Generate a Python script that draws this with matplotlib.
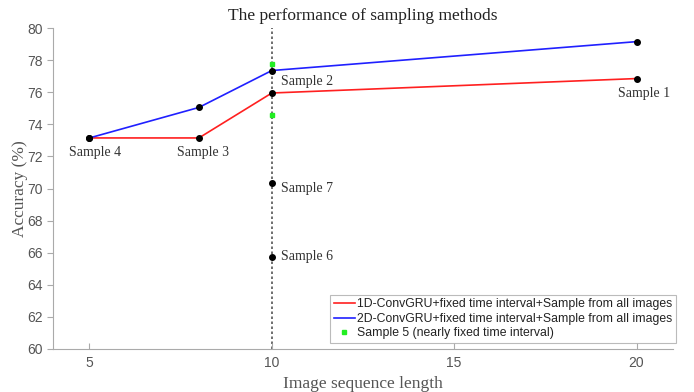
import numpy as np
import matplotlib.pyplot as plt

# Data
lengths = [5, 8, 10, 20]
acc_1d = [73.15, 73.15, 75.95, 76.85]
acc_2d = [73.15, 75.05, 77.35, 79.15]
sample5_x = [10, 10]
sample5_acc = [77.75, 74.55]
other_x = [10, 10]
other_acc = [70.35, 65.75]
sample_names = ['Sample 1', 'Sample 2', 'Sample 3', 'Sample 4', 'Sample 6', 'Sample 7']

serif = ['Liberation Serif', 'DejaVu Serif']
sans = ['Liberation Sans', 'DejaVu Sans']
grey = '#555555'

fig = plt.figure(figsize=(6.94, 3.92), dpi=100)
ax = fig.add_axes([53 / 694, 43 / 392, 620 / 694, 321 / 392])

ax.axvline(10, color='#555555', linestyle=(0, (1.5, 1.5)), linewidth=1.2, zorder=1)

ax.plot(lengths, acc_1d, color='#ff2020', linewidth=1.2,
        label='1D-ConvGRU+fixed time interval+Sample from all images', zorder=2)
ax.plot(lengths, acc_2d, color='#2020ff', linewidth=1.2,
        label='2D-ConvGRU+fixed time interval+Sample from all images', zorder=2)
ax.plot(sample5_x, sample5_acc, linestyle='none', marker='s', color='#22ee22',
        markersize=2.5, label='Sample 5 (nearly fixed time interval)', zorder=3)

# black points on the lines and the extra samples
ax.plot(lengths, acc_1d, linestyle='none', marker='o', color='black', markersize=4, zorder=4)
ax.plot(lengths, acc_2d, linestyle='none', marker='o', color='black', markersize=4, zorder=4)
ax.plot(other_x, other_acc, linestyle='none', marker='o', color='black', markersize=4, zorder=4)

# sample labels
lab_kw = dict(fontsize=10, color='#333333', family=serif)
ax.text(20.2, acc_1d[3] - 0.5, sample_names[0], ha='center', va='top', **lab_kw)
ax.text(10.25, (acc_1d[2] + acc_2d[2]) / 2, sample_names[1], ha='left', va='center', **lab_kw)
ax.text(8.1, acc_1d[1] - 0.5, sample_names[2], ha='center', va='top', **lab_kw)
ax.text(5.15, acc_1d[0] - 0.5, sample_names[3], ha='center', va='top', **lab_kw)
ax.text(10.25, other_acc[1], sample_names[4], ha='left', va='center', **lab_kw)
ax.text(10.25, other_acc[0] - 0.35, sample_names[5], ha='left', va='center', **lab_kw)

ax.set_xlim(4, 21)
ax.set_ylim(60, 80)
ax.set_xticks([5, 10, 15, 20])
ax.set_yticks(np.arange(60, 81, 2))

for side in ['top', 'right']:
    ax.spines[side].set_visible(False)
for side in ['left', 'bottom']:
    ax.spines[side].set_color('#aaaaaa')
ax.tick_params(colors='#aaaaaa', labelcolor=grey, labelsize=10, length=4)
ax.tick_params(axis='x', direction='in', pad=5)
for lbl in ax.get_xticklabels() + ax.get_yticklabels():
    lbl.set_family(sans)

ax.set_title('The performance of sampling methods', fontsize=12.5, family=serif,
             color='#222222', pad=6)
ax.set_xlabel('Image sequence length', fontsize=12.5, family=serif, color=grey, labelpad=4)
ax.set_ylabel('Accuracy (%)', fontsize=12.5, family=serif, color=grey, labelpad=-1)

leg = ax.legend(loc='lower right', prop={'family': sans, 'size': 8.8}, frameon=True,
                fancybox=False, edgecolor='#aaaaaa', handlelength=1.7,
                handletextpad=0.2, borderaxespad=0, labelspacing=0.2,
                borderpad=0.3, bbox_to_anchor=(1.005, 6 / 321))
leg.get_frame().set_linewidth(0.8)
for t in leg.get_texts():
    t.set_color('#222222')

fig.savefig('out.png', dpi=100)
